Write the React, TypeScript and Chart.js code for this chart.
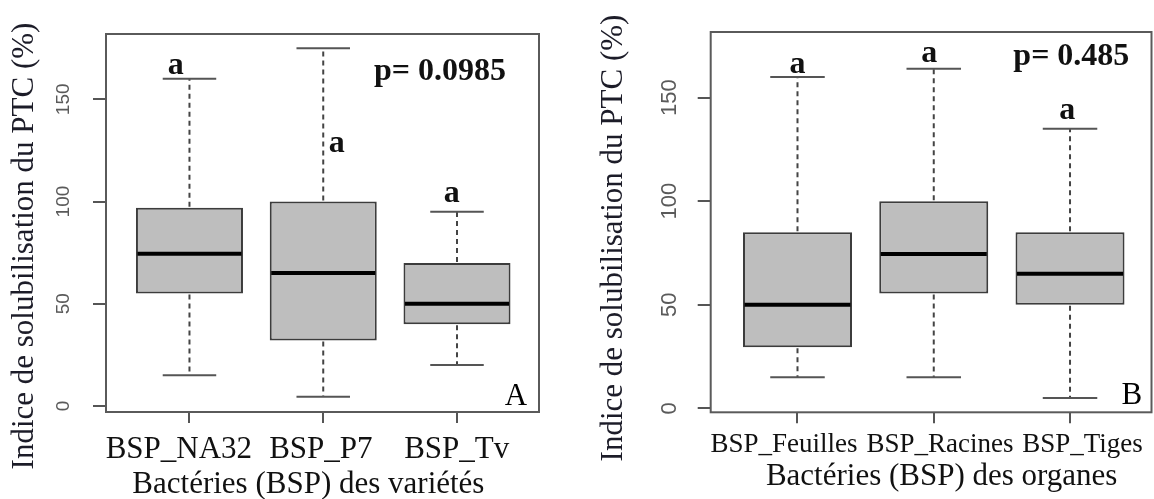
import React, { useEffect, useRef } from 'react';
import { Chart, registerables } from 'chart.js';

Chart.register(...registerables);

// ---------- Data ----------
const yTitle = 'Indice de solubilisation du PTC (%)';
const yTicks = [0, 50, 100, 150];

// Panel A
const categoriesA = ['BSP_NA32', 'BSP_P7', 'BSP_Tv'];
const minA = [15, 4.5, 20];
const q1A = [55, 32, 40];
const medianA = [74.5, 65, 50];
const q3A = [97, 100, 70];
const maxA = [160, 175, 95];
const lettersA = ['a', 'a', 'a'];
const letterXA = [0.897, 2.101, 2.961];
const letterYA = [162.4, 124, 99.9];
const pValueA = 'p= 0.0985';
const xTitleA = 'Bactéries (BSP) des variétés';

// Panel B
const categoriesB = ['BSP_Feuilles', 'BSP_Racines', 'BSP_Tiges'];
const minB = [15, 15, 5];
const q1B = [29.5, 55.5, 50];
const medianB = [50, 74.5, 65];
const q3B = [85, 100, 85];
const maxB = [160, 164, 135];
const lettersB = ['a', 'a', 'a'];
const letterXB = [1.0, 1.967, 2.98];
const letterYB = [162, 167.2, 139.7];
const pValueB = 'p= 0.485';
const xTitleB = 'Bactéries (BSP) des organes';

// ---------- Layout / style ----------
const panelA = {
  categories: categoriesA, min: minA, q1: q1A, median: medianA, q3: q3A, max: maxA,
  letters: lettersA, letterX: letterXA, letterY: letterYA, pValue: pValueA, xTitle: xTitleA,
  padTop: 34, padRight: 38, yAxisW: 106, xAxisH: 87,
  yMin: -2.93, yMax: 181.94, xMin: 0.376, xMax: 3.613,
  yTickX: 63.3, yTickFont: 19,
  yTitleX: 33.3, yTitleY: 246,
  xLabelPos: [0.921, 1.982, 2.998], xLabelBase: 458.3, xLabelFont: 31,
  xTitlePos: 1.889, xTitleBase: 493.3,
  pX: 2.38, pY: 159.4,
  corner: 'A', cornerX: 3.524, cornerY: 0.5,
};

const panelB = {
  categories: categoriesB, min: minB, q1: q1B, median: medianB, q3: q3B, max: maxB,
  letters: lettersB, letterX: letterXB, letterY: letterYB, pValue: pValueB, xTitle: xTitleB,
  padTop: 32, padRight: 2.5, yAxisW: 133.7, xAxisH: 86.7,
  yMin: -1.93, yMax: 181.73, xMin: 0.363, xMax: 3.598,
  yTickX: 93, yTickFont: 22,
  yTitleX: 44.7, yTitleY: 238,
  xLabelPos: [0.901, 2.046, 3.092], xLabelBase: 451.7, xLabelFont: 27,
  xTitlePos: 2.058, xTitleBase: 485,
  pX: 2.584, pY: 165.8,
  corner: 'B', cornerX: 3.529, cornerY: 2.1,
};

const SERIF = '"Liberation Serif", "Times New Roman", serif';
const SANS = '"Liberation Sans", Arial, sans-serif';

function makeChart(canvas: HTMLCanvasElement, p: any) {
  const xs = p.categories.map((_: string, i: number) => i + 1);

  const plugin = {
    id: 'boxExtras' + p.corner,
    afterDatasetsDraw(chart: any) {
      const { ctx } = chart;
      const x = chart.scales.x;
      const y = chart.scales.y;
      const meta = chart.getDatasetMeta(0);
      ctx.save();
      xs.forEach((xv: number, i: number) => {
        const el = meta.data[i];
        const w = el.width;
        const cx = x.getPixelForValue(xv);
        const pMin = y.getPixelForValue(p.min[i]);
        const pQ1 = y.getPixelForValue(p.q1[i]);
        const pMed = y.getPixelForValue(p.median[i]);
        const pQ3 = y.getPixelForValue(p.q3[i]);
        const pMax = y.getPixelForValue(p.max[i]);
        // whiskers
        ctx.setLineDash([5, 4]);
        ctx.strokeStyle = '#444';
        ctx.lineWidth = 2;
        ctx.beginPath();
        ctx.moveTo(cx, pQ3 - 1);
        ctx.lineTo(cx, pMax);
        ctx.moveTo(cx, pQ1 + 1);
        ctx.lineTo(cx, pMin);
        ctx.stroke();
        ctx.setLineDash([]);
        // caps
        ctx.strokeStyle = '#555';
        ctx.beginPath();
        ctx.moveTo(cx - w / 4, pMax);
        ctx.lineTo(cx + w / 4, pMax);
        ctx.moveTo(cx - w / 4, pMin);
        ctx.lineTo(cx + w / 4, pMin);
        ctx.stroke();
        // median
        ctx.strokeStyle = '#000';
        ctx.lineWidth = 4;
        ctx.beginPath();
        ctx.moveTo(cx - w / 2 + 1.5, pMed);
        ctx.lineTo(cx + w / 2 - 1.5, pMed);
        ctx.stroke();
      });
      ctx.restore();
    },
    afterDraw(chart: any) {
      const { ctx, chartArea } = chart;
      const x = chart.scales.x;
      const y = chart.scales.y;
      ctx.save();
      // frame
      ctx.strokeStyle = '#5a5a5a';
      ctx.lineWidth = 2;
      ctx.strokeRect(chartArea.left, chartArea.top, chartArea.right - chartArea.left, chartArea.bottom - chartArea.top);

      // y tick labels (rotated)
      ctx.fillStyle = '#5a5a5a';
      ctx.font = `${p.yTickFont}px ${SANS}`;
      ctx.textAlign = 'center';
      ctx.textBaseline = 'middle';
      yTicks.forEach((v) => {
        const py = y.getPixelForValue(v);
        ctx.save();
        ctx.translate(p.yTickX, py);
        ctx.rotate(-Math.PI / 2);
        ctx.fillText(String(v), 0, 0);
        ctx.restore();
      });

      // y title
      ctx.fillStyle = '#1c1c28';
      ctx.font = `31px ${SERIF}`;
      ctx.textBaseline = 'alphabetic';
      ctx.save();
      ctx.translate(p.yTitleX, p.yTitleY);
      ctx.rotate(-Math.PI / 2);
      ctx.fillText(yTitle, 0, 0);
      ctx.restore();

      // x tick labels
      ctx.fillStyle = '#111';
      ctx.font = `${p.xLabelFont}px ${SERIF}`;
      ctx.textAlign = 'center';
      p.categories.forEach((c: string, i: number) => {
        ctx.fillText(c, x.getPixelForValue(p.xLabelPos[i]), p.xLabelBase);
      });
      // x title
      ctx.font = `31px ${SERIF}`;
      ctx.fillText(p.xTitle, x.getPixelForValue(p.xTitlePos), p.xTitleBase);

      // significance letters
      ctx.font = `bold 32px ${SERIF}`;
      ctx.textAlign = 'center';
      p.letters.forEach((l: string, i: number) => {
        ctx.fillText(l, x.getPixelForValue(p.letterX[i]), y.getPixelForValue(p.letterY[i]));
      });
      // p-value
      ctx.textAlign = 'left';
      ctx.fillText(p.pValue, x.getPixelForValue(p.pX), y.getPixelForValue(p.pY));
      // corner letter
      ctx.font = `31px ${SERIF}`;
      ctx.textAlign = 'right';
      ctx.fillStyle = '#000';
      ctx.fillText(p.corner, x.getPixelForValue(p.cornerX), y.getPixelForValue(p.cornerY));
      ctx.restore();
    },
  };

  return new Chart(canvas, {
    type: 'bar',
    data: {
      datasets: [
        {
          data: xs.map((xv: number, i: number) => ({ x: xv, y: [p.q1[i], p.q3[i]] })),
          backgroundColor: '#bebebe',
          borderColor: '#3c3c3c',
          borderWidth: 2,
          borderSkipped: false,
          barPercentage: 0.8,
          categoryPercentage: 1,
        } as any,
      ],
    },
    options: {
      animation: false,
      responsive: false,
      events: [],
      layout: { padding: { top: p.padTop, right: p.padRight, left: 0, bottom: 0 } },
      plugins: { legend: { display: false }, tooltip: { enabled: false }, title: { display: false } },
      scales: {
        x: {
          type: 'linear',
          min: p.xMin,
          max: p.xMax,
          offset: false,
          afterFit: (s: any) => { s.height = p.xAxisH; },
          afterBuildTicks: (s: any) => { s.ticks = xs.map((v: number) => ({ value: v })); },
          ticks: { display: false },
          grid: { display: true, offset: false, drawOnChartArea: false, drawTicks: true, tickLength: 11, color: '#555', lineWidth: 2 },
          border: { display: false },
        },
        y: {
          type: 'linear',
          min: p.yMin,
          max: p.yMax,
          afterFit: (s: any) => { s.width = p.yAxisW; },
          afterBuildTicks: (s: any) => { s.ticks = yTicks.map((v) => ({ value: v })); },
          ticks: { display: false },
          grid: { display: true, drawOnChartArea: false, drawTicks: true, tickLength: 13, color: '#555', lineWidth: 2 },
          border: { display: false },
        },
      },
    } as any,
    plugins: [plugin],
  });
}

export default function App() {
  const refA = useRef<HTMLCanvasElement>(null);
  const refB = useRef<HTMLCanvasElement>(null);

  useEffect(() => {
    const a = makeChart(refA.current as HTMLCanvasElement, panelA);
    const b = makeChart(refB.current as HTMLCanvasElement, panelB);
    return () => {
      a.destroy();
      b.destroy();
    };
  }, []);

  return (
    <div style={{ position: 'fixed', left: 0, top: 0, width: 1154, height: 499, background: '#fff' }}>
      <canvas ref={refA} width={577} height={499} style={{ position: 'absolute', left: 0, top: 0 }} />
      <canvas ref={refB} width={577} height={499} style={{ position: 'absolute', left: 577, top: 0 }} />
    </div>
  );
}
